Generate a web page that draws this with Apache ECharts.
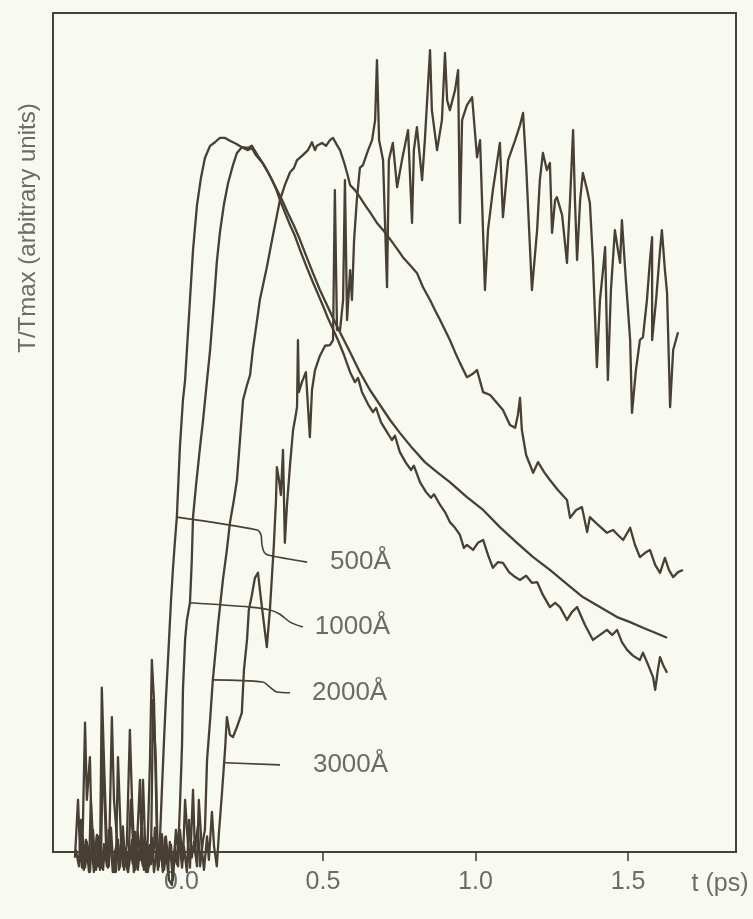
<!DOCTYPE html>
<html>
<head>
<meta charset="utf-8">
<script src="https://cdn.jsdelivr.net/npm/echarts@6/dist/echarts.min.js"></script>
<style>
  html, body { margin: 0; padding: 0; background: #f8f9f0; }
  #chart { width: 753px; height: 919px; }
</style>
</head>
<body>
<div id="chart"></div>
<script>
// Time axis (ps) and labelled ticks
const tickValues = [0, 0.5, 1.0, 1.5];

// 500 Å film: time (ps) and normalised temperature T/Tmax
const t500 = [-0.313,-0.303,-0.297,-0.290,-0.280,-0.274,-0.264,-0.257,-0.248,-0.241,-0.231,-0.225,-0.218,-0.208,-0.202,-0.192,-0.185,-0.175,-0.169,-0.159,-0.152,-0.143,-0.133,-0.126,-0.116,-0.110,-0.100,-0.093,-0.084,-0.077,-0.067,-0.061,-0.054,-0.044,-0.038,-0.028,-0.021,
  -0.015,-0.008,0.002,0.008,0.015,0.021,0.031,0.041,0.048,0.054,0.064,0.074,0.087,0.100,0.113,0.130,0.146,0.162,0.179,0.195,0.215,0.234,0.254,0.267,0.280,
  0.300,0.316,0.333,0.346,0.359,0.375,0.392,0.408,0.425,0.444,0.467,0.484,0.500,0.516,0.533,0.549,0.569,0.589,0.605,0.615,0.628,0.648,0.664,0.674,0.690,0.710,0.726,0.736,0.752,0.772,0.789,0.798,0.818,0.838,0.854,0.864,0.884,0.900,0.916,
  0.933,0.949,0.962,0.972,0.992,1.008,1.025,1.041,1.057,1.074,1.090,1.110,1.130,1.146,1.166,1.185,1.202,1.221,1.244,1.261,1.277,1.300,1.316,1.333,1.359,1.385,1.408,1.431,1.448,1.464,1.480,1.497,1.516,1.539,1.549,1.566,1.582,1.589,1.598,1.605,1.615,1.628];
const v500 = [-0.008,0.073,0.008,-0.022,0.181,0.073,0.133,0.003,-0.014,0.024,-0.025,0.230,0.129,0.000,-0.020,0.189,0.073,0.017,-0.025,0.028,-0.014,0.010,0.171,0.073,-0.025,0.008,0.101,-0.014,0.022,-0.020,0.129,0.269,0.213,0.020,-0.020,0.087,0.157,
  0.213,0.269,0.353,0.395,0.437,0.469,0.567,0.633,0.661,0.703,0.773,0.843,0.906,0.944,0.972,0.989,0.994,1.000,1.000,0.996,0.992,0.987,0.983,0.986,0.976,
  0.966,0.955,0.941,0.929,0.913,0.896,0.878,0.863,0.843,0.822,0.798,0.781,0.765,0.748,0.732,0.717,0.696,0.672,0.658,0.664,0.644,0.627,0.616,0.622,0.602,0.588,0.577,0.583,0.560,0.545,0.535,0.541,0.518,0.504,0.496,0.501,0.486,0.476,0.462,
  0.454,0.444,0.426,0.430,0.423,0.433,0.437,0.416,0.398,0.406,0.405,0.392,0.385,0.381,0.387,0.377,0.378,0.360,0.343,0.349,0.343,0.325,0.336,0.343,0.318,0.297,0.304,0.311,0.304,0.311,0.294,0.283,0.275,0.269,0.279,0.262,0.245,0.227,0.255,0.273,0.262,0.251];

// 1000 Å film
const t1000 = [-0.310,-0.300,-0.293,-0.284,-0.277,-0.267,-0.261,-0.251,-0.244,-0.234,-0.228,-0.221,-0.211,-0.205,-0.195,-0.189,-0.179,-0.172,-0.162,-0.156,-0.146,-0.139,-0.130,-0.123,-0.113,-0.107,-0.097,-0.090,-0.080,-0.074,-0.064,-0.057,-0.048,-0.041,-0.031,-0.025,-0.015,-0.008,0.002,0.008,0.018,0.025,0.031,
  0.038,0.041,0.048,0.054,0.064,0.070,0.074,0.084,0.097,0.107,0.120,0.130,0.143,0.152,0.162,0.175,0.189,0.205,0.218,0.234,0.254,0.267,
  0.287,0.307,0.326,0.346,0.366,0.385,0.405,0.425,0.444,0.467,0.490,0.513,0.536,0.559,0.589,0.621,0.654,0.687,0.720,0.752,0.792,0.834,0.874,0.916,0.972,1.025,1.080,1.136,1.189,1.244,1.300,1.352,1.408,1.464,1.507,1.549,1.589,1.628];
const v1000 = [0.003,-0.020,0.045,-0.008,0.017,-0.028,0.073,-0.006,-0.025,0.022,-0.014,0.143,0.008,-0.022,0.034,-0.008,-0.028,0.133,0.014,-0.020,0.003,-0.028,0.073,0.017,-0.022,0.028,-0.011,0.101,-0.028,0.008,-0.017,0.213,0.129,-0.020,0.006,-0.028,0.022,-0.011,0.010,-0.032,0.031,0.000,0.063,
  0.150,0.227,0.297,0.325,0.349,0.409,0.469,0.514,0.567,0.605,0.661,0.703,0.773,0.826,0.867,0.906,0.937,0.962,0.979,0.987,0.986,0.989,
  0.975,0.962,0.947,0.930,0.913,0.895,0.877,0.857,0.836,0.811,0.787,0.766,0.745,0.725,0.700,0.672,0.647,0.626,0.605,0.587,0.566,0.546,0.532,0.518,0.497,0.479,0.455,0.433,0.413,0.395,0.375,0.357,0.343,0.329,0.322,0.314,0.307,0.300];

// 2000 Å film
const t2000 = [-0.297,-0.287,-0.280,-0.270,-0.264,-0.254,-0.248,-0.238,-0.231,-0.221,-0.215,-0.205,-0.198,-0.189,-0.182,-0.172,-0.166,-0.156,-0.149,-0.139,-0.133,-0.123,-0.116,-0.107,-0.100,-0.090,-0.084,-0.074,-0.067,-0.057,-0.051,-0.041,-0.034,-0.025,-0.018,-0.008,-0.002,0.008,0.015,0.025,0.031,0.041,0.048,0.057,0.064,0.074,0.080,0.090,0.097,0.107,0.113,
  0.120,0.130,0.139,0.156,0.172,0.185,0.195,0.208,0.218,0.228,0.238,0.251,0.261,0.270,0.284,0.293,0.307,0.316,0.333,0.346,0.359,0.375,0.392,0.405,0.415,0.434,0.451,0.464,0.474,0.480,0.497,0.510,0.523,0.533,0.546,0.556,
  0.569,0.579,0.589,0.605,0.621,0.638,0.654,0.677,0.697,0.710,0.729,0.746,0.762,0.785,0.808,0.828,0.851,0.867,0.884,0.900,0.916,0.933,0.949,0.972,0.989,1.005,1.025,1.048,1.070,1.090,1.113,1.130,1.139,1.146,1.152,
  1.166,1.179,1.189,1.205,1.225,1.244,1.270,1.300,1.310,1.330,1.349,1.366,1.375,1.402,1.431,1.451,1.467,1.484,1.507,1.523,1.539,1.556,1.572,1.589,1.605,1.621,1.634,1.648,1.664,1.680];
const v2000 = [-0.014,0.020,-0.022,0.008,-0.028,0.031,-0.006,-0.020,0.014,-0.025,0.006,-0.014,0.022,-0.028,0.000,0.017,-0.022,0.036,-0.011,-0.028,0.008,-0.017,0.028,-0.025,0.003,-0.020,0.017,-0.028,0.010,-0.014,0.034,-0.025,0.003,-0.020,0.020,-0.028,0.014,-0.039,0.006,-0.020,0.031,-0.011,0.073,0.014,-0.022,0.087,0.003,0.036,-0.020,0.017,0.031,
  0.129,0.185,0.241,0.318,0.381,0.423,0.461,0.493,0.521,0.577,0.633,0.654,0.668,0.703,0.745,0.773,0.801,0.819,0.857,0.885,0.913,0.934,0.952,0.958,0.969,0.976,0.983,0.994,0.983,0.989,0.993,0.989,0.997,1.000,0.990,0.983,
  0.966,0.951,0.934,0.927,0.917,0.906,0.896,0.881,0.871,0.864,0.853,0.843,0.833,0.822,0.811,0.791,0.773,0.759,0.745,0.731,0.717,0.700,0.685,0.665,0.669,0.675,0.644,0.640,0.629,0.619,0.598,0.594,0.612,0.636,0.591,
  0.556,0.542,0.531,0.546,0.532,0.521,0.507,0.493,0.468,0.479,0.483,0.448,0.469,0.458,0.447,0.451,0.444,0.437,0.454,0.430,0.413,0.419,0.423,0.402,0.391,0.412,0.395,0.385,0.392,0.395];

// 3000 Å film
const t3000 = [-0.290,-0.284,-0.274,-0.267,-0.257,-0.251,-0.241,-0.234,-0.225,-0.218,-0.208,-0.202,-0.192,-0.185,-0.175,-0.169,-0.159,-0.152,-0.143,-0.136,-0.126,-0.120,-0.110,-0.103,-0.093,-0.087,-0.077,-0.070,-0.061,-0.054,-0.044,-0.038,-0.028,-0.021,-0.011,-0.005,0.005,0.011,0.021,0.028,0.038,0.044,0.054,0.061,0.070,0.077,0.087,0.093,0.103,0.110,0.120,0.126,0.136,0.143,0.152,0.159,
  0.169,0.179,0.185,0.195,0.205,0.218,0.234,0.241,0.251,0.257,0.267,0.277,0.287,0.297,0.307,0.316,0.326,0.333,0.339,0.346,0.349,0.356,0.362,0.369,0.375,0.382,0.392,0.402,0.408,0.415,0.418,0.421,0.431,0.444,0.457,0.464,0.474,0.490,0.507,0.523,0.533,0.539,0.546,0.556,0.566,0.572,0.579,0.589,0.595,0.602,0.611,
  0.621,0.631,0.648,0.661,0.671,0.677,0.684,0.697,0.710,0.716,0.729,0.743,0.759,0.779,0.792,0.798,0.808,0.825,0.834,0.851,0.857,0.874,0.890,0.900,0.907,0.916,0.933,0.943,0.949,0.956,0.972,0.989,1.005,1.015,1.031,1.041,1.057,1.080,1.090,1.107,1.130,1.146,1.156,1.166,1.185,1.202,1.211,1.221,1.234,1.244,1.251,1.261,1.267,1.284,
  1.300,1.310,1.320,1.326,1.333,1.343,1.352,1.366,1.375,1.385,1.398,1.408,1.418,1.425,1.434,1.444,1.457,1.467,1.474,1.480,1.493,1.507,1.513,1.526,1.539,1.549,1.562,1.572,1.579,1.579,1.592,1.605,1.611,1.621,1.628,1.638,1.648,1.657,1.664];
const v3000 = [-0.006,-0.025,0.014,-0.017,0.003,-0.028,0.022,-0.011,-0.022,0.011,-0.020,0.031,-0.008,-0.028,0.006,-0.017,0.022,-0.025,0.000,-0.020,0.017,-0.028,0.008,-0.011,0.034,-0.025,0.000,-0.020,0.020,-0.028,0.006,-0.014,0.025,-0.025,0.008,-0.039,-0.046,0.000,-0.017,0.022,-0.022,0.008,-0.028,0.045,-0.008,0.014,-0.020,0.073,0.003,-0.025,0.022,-0.011,0.056,0.008,-0.020,0.027,
  0.083,0.143,0.189,0.164,0.161,0.175,0.195,0.255,0.297,0.339,0.360,0.384,0.391,0.353,0.318,0.287,0.339,0.388,0.430,0.493,0.539,0.521,0.500,0.563,0.433,0.486,0.542,0.591,0.605,0.623,0.717,0.644,0.658,0.672,0.581,0.647,0.675,0.695,0.709,0.710,0.717,0.927,0.731,0.731,0.773,0.941,0.745,0.815,0.773,0.857,0.913,
  0.958,0.962,0.983,0.997,1.025,1.109,0.997,0.969,0.791,0.969,0.993,0.931,0.969,1.011,0.881,0.983,1.015,0.941,0.997,1.123,1.039,0.983,1.025,1.119,1.053,1.039,1.067,1.095,0.881,1.025,1.046,1.057,0.973,0.997,0.787,0.871,0.927,0.993,0.889,0.969,0.997,1.018,1.035,0.962,0.787,0.871,0.941,0.979,0.955,0.965,0.867,0.913,0.917,0.892,
  0.825,0.913,1.011,0.913,0.829,0.913,0.951,0.927,0.909,0.829,0.679,0.773,0.815,0.847,0.661,0.787,0.871,0.843,0.825,0.885,0.801,0.717,0.615,0.675,0.717,0.721,0.773,0.829,0.861,0.717,0.773,0.843,0.871,0.815,0.783,0.623,0.703,0.717,0.728];

// Leader lines from each curve to its thickness label
const leaderNames = ['500Å', '1000Å', '2000Å', '3000Å'];
const leaderT = [
  [0.021, 0.284, 0.297, 0.300, 0.307, 0.320, 0.448],
  [0.064, 0.261, 0.326, 0.359, 0.392, 0.434],
  [0.136, 0.303, 0.326, 0.349, 0.392],
  [0.179, 0.359]
];
const leaderV = [
  [0.469, 0.451, 0.444, 0.430, 0.420, 0.416, 0.406],
  [0.349, 0.343, 0.339, 0.333, 0.322, 0.315],
  [0.241, 0.238, 0.231, 0.224, 0.223],
  [0.125, 0.122]
];
const leaderGap = [23, 12, 22, 33];

const ink = '#483f35';
const textColor = '#6b6b68';
const font = "'Liberation Sans', Arial, sans-serif";

const zip = (xs, ys) => xs.map((x, i) => [x, ys[i]]);

const curves = [
  { name: '500Å', t: t500, v: v500 },
  { name: '1000Å', t: t1000, v: v1000 },
  { name: '2000Å', t: t2000, v: v2000 },
  { name: '3000Å', t: t3000, v: v3000 }
];

const series = curves.map(c => ({
  type: 'line',
  name: c.name,
  data: zip(c.t, c.v),
  showSymbol: false,
  clip: false,
  silent: true,
  lineStyle: { color: ink, width: 2.3, join: 'round' },
  z: 3
}));

// Each leader ends at its thickness label, drawn as the line's end label
leaderNames.forEach((name, k) => {
  series.push({
    type: 'line',
    name: 'leader ' + name,
    data: zip(leaderT[k], leaderV[k]),
    showSymbol: false,
    clip: false,
    silent: true,
    smooth: 0.3,
    lineStyle: { color: ink, width: 1.6 },
    endLabel: {
      show: true,
      formatter: name,
      distance: leaderGap[k],
      color: textColor, fontSize: 26, fontFamily: font
    },
    z: 2
  });
});

const chart = echarts.init(document.getElementById('chart'), null, { renderer: 'canvas' });
chart.setOption({
  backgroundColor: '#f8f9f0',
  animation: false,
  grid: {
    left: 53, top: 13, width: 683, height: 839,
    show: true, borderColor: ink, borderWidth: 2, backgroundColor: 'transparent'
  },
  xAxis: {
    type: 'value',
    min: -0.385, max: 1.854,
    axisLine: { show: true, lineStyle: { color: ink, width: 2 } },
    axisTick: { show: true, customValues: tickValues, length: 9, lineStyle: { color: ink, width: 1.6 } },
    axisLabel: {
      show: true, customValues: tickValues, margin: 18,
      formatter: v => (v === 0 ? '{z|0.0}' : v.toFixed(1)),
      color: textColor, fontSize: 25, fontFamily: font,
      rich: { z: { padding: [0, 0, 0, 22], color: textColor, fontSize: 25, fontFamily: font } }
    },
    splitLine: { show: false }
  },
  yAxis: {
    type: 'value',
    min: 0, max: 1.175,
    axisLine: { show: false },
    axisTick: { show: false },
    axisLabel: { show: false },
    splitLine: { show: false }
  },
  graphic: [
    {
      type: 'text', x: 28, y: 228, rotation: Math.PI / 2,
      style: { text: 'T/Tmax (arbitrary units)', align: 'center', verticalAlign: 'middle',
               fill: textColor, fontSize: 24, fontFamily: font }
    },
    {
      type: 'text', x: 720, y: 884,
      style: { text: 't (ps)', align: 'center', verticalAlign: 'middle',
               fill: textColor, fontSize: 25, fontFamily: font }
    }
  ],
  series
});
</script>
</body>
</html>
